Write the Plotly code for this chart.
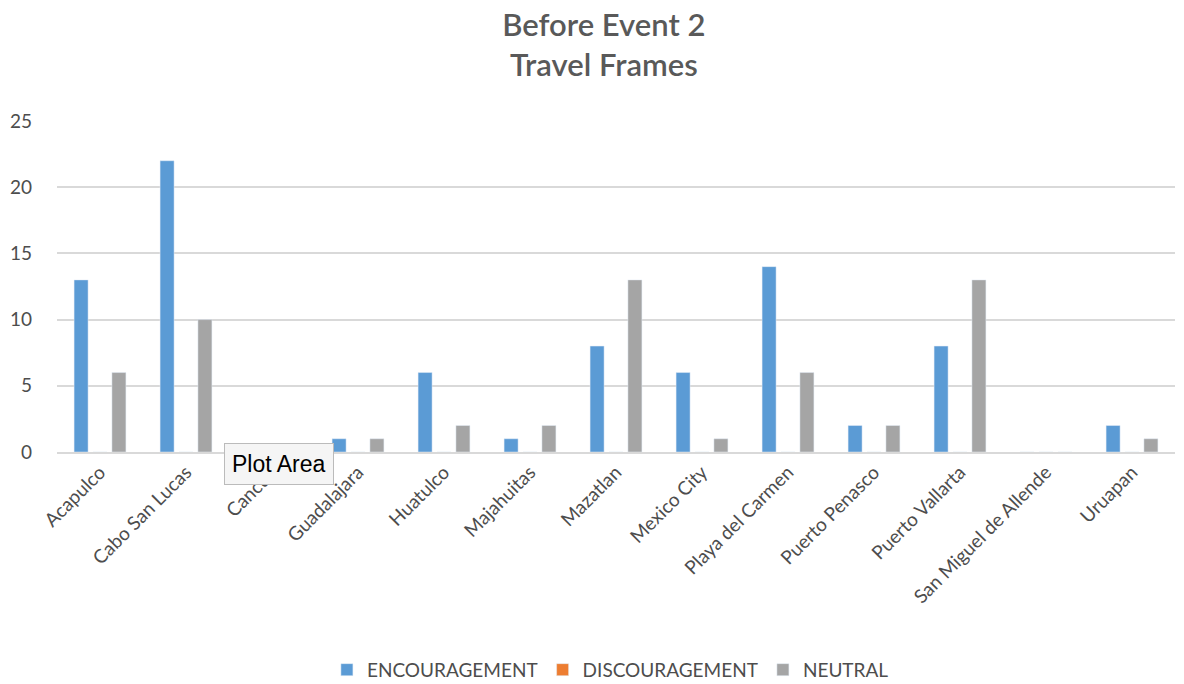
import plotly.graph_objects as go

categories = ["Acapulco", "Cabo San Lucas", "Cancun", "Guadalajara", "Huatulco",
              "Majahuitas", "Mazatlan", "Mexico City", "Playa del Carmen",
              "Puerto Penasco", "Puerto Vallarta", "San Miguel de Allende", "Uruapan"]
encouragement = [13, 22, 0, 1, 6, 1, 8, 6, 14, 2, 8, 0, 2]
discouragement = [0, 0, 0, 0, 0, 0, 0, 0, 0, 0, 0, 0, 0]
neutral = [6, 10, 0, 1, 2, 2, 13, 1, 6, 2, 13, 0, 1]
y_ticks = [0, 5, 10, 15, 20, 25]

FONT = "Lato, 'Open Sans', sans-serif"
GREY = "#4d4d4d"

fig = go.Figure()
fig.add_bar(x=categories, y=encouragement, name="ENCOURAGEMENT", marker_color="#5B9BD5")
fig.add_bar(x=categories, y=discouragement, name="DISCOURAGEMENT", marker_color="#ED7D31")
fig.add_bar(x=categories, y=neutral, name="NEUTRAL", marker_color="#A5A5A5")

fig.update_layout(
    width=1184, height=684,
    barmode="group", bargap=0.34, bargroupgap=0.26,
    paper_bgcolor="white", plot_bgcolor="white",
    margin=dict(l=57, r=9, t=121, b=232, autoexpand=False),
    font=dict(family=FONT, color=GREY, size=15),
    title=dict(text="Before Event 2<br>Travel Frames", x=0.51, xanchor="center",
               y=1 - 36 / 684, yanchor="top",
               font=dict(size=31, color="#595959", family=FONT, weight=600)),
    legend=dict(orientation="h", x=0.495, xanchor="center", y=-0.658, yanchor="middle",
                font=dict(size=19, color=GREY), traceorder="normal", itemwidth=30),
    xaxis=dict(tickangle=-45, showgrid=False, showline=True, linecolor="#d9d9d9",
               linewidth=1.5, tickfont=dict(size=19, color=GREY), ticks="", automargin=False),
    yaxis=dict(range=[0, 25], tickvals=y_ticks, showgrid=True, gridcolor="#d9d9d9",
               gridwidth=1.5, zeroline=False, tickfont=dict(size=19, color=GREY),
               ticks="", ticklabelstandoff=24, automargin=False),
    annotations=[dict(text="Plot Area", xref="paper", yref="paper",
                      x=(224 - 57) / 1118, y=(452 - 443) / 331, xanchor="left", yanchor="top",
                      showarrow=False, font=dict(family="Liberation Sans, Arial", size=23, color="black"),
                      bgcolor="#f5f5f5", bordercolor="#bbbbbb", borderwidth=1, borderpad=7)],
)

fig.write_html("out.html", config={"displayModeBar": False},
               post_script="document.body.style.margin='0';document.body.style.overflow='hidden';")
